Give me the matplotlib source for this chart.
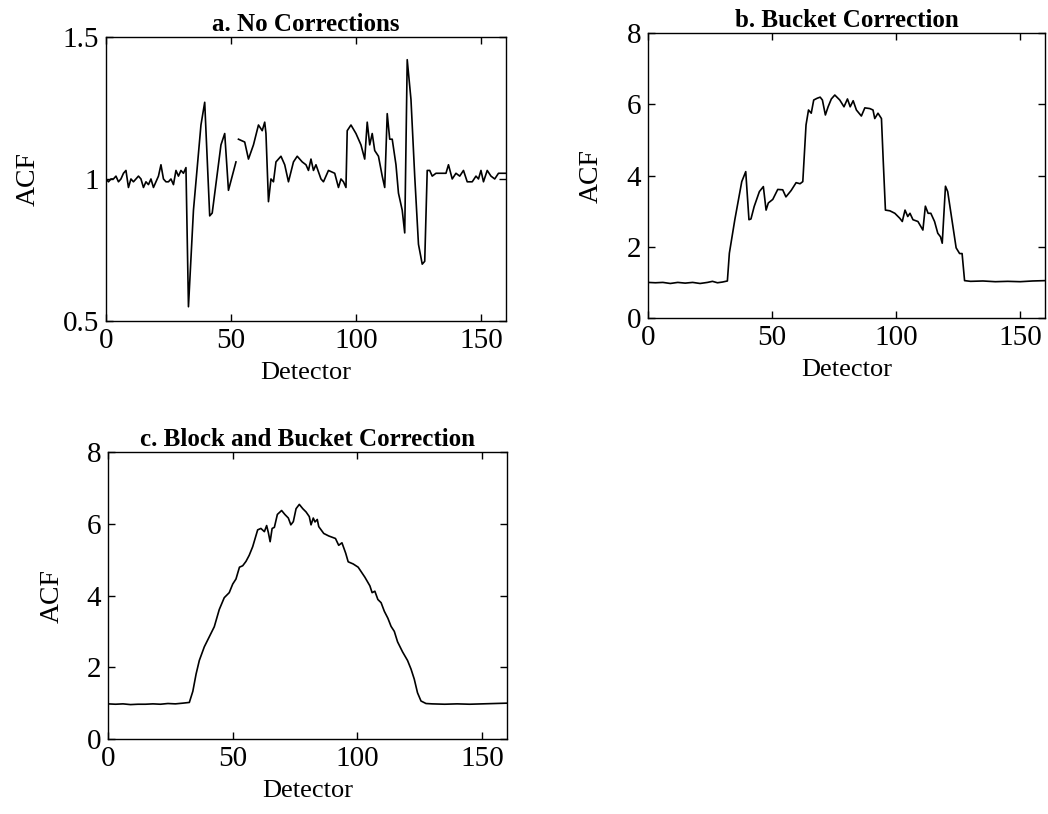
import numpy as np
import matplotlib
matplotlib.use("Agg")
import matplotlib.pyplot as plt
from matplotlib.ticker import FormatStrFormatter

# ---------------------------------------------------------------------------
# Dados (detector, ACF)
# ---------------------------------------------------------------------------
det_a = [0, 1, 2, 3, 4, 5, 6, 7, 8, 9, 10, 11, 12, 13, 14, 15, 16, 17, 18, 19,
         20, 21, 22, 23, 24, 25, 26, 27, 28, 29, 30, 31, 32, 33, 35, 38, 39.5,
         41.5, 42.5, 46, 47.5, 49, 50.5, 52, 52.5, 53, 55.5, 57, 59, 61, 62.5,
         63.5, 64, 65, 66, 67, 68, 70, 71.5, 73, 75, 76.5, 78.5, 80, 81, 82, 83,
         84, 86, 87, 89, 91.5, 93, 94, 95, 96, 96.5, 98, 100, 102, 103.5, 104.5,
         105.5, 106.5, 107.5, 109, 110.5, 111.5, 112.5, 113.5, 114.5, 116, 117,
         118.5, 119.5, 120.5, 122, 123.5, 125, 126.5, 127.5, 128.5, 129.5,
         130.5, 132, 134, 136, 137, 138.5, 140, 141.5, 143, 144.5, 146.5, 148,
         149, 150, 151, 152.5, 154, 155.5, 157, 158.5, 160]
acf_a = [1.00, 0.99, 1.00, 1.00, 1.01, 0.99, 1.00, 1.02, 1.03, 0.97, 1.00, 0.99,
         1.00, 1.01, 1.00, 0.97, 0.99, 0.98, 1.00, 0.97, 0.99, 1.01, 1.05, 1.00,
         0.99, 0.99, 1.00, 0.98, 1.03, 1.01, 1.03, 1.02, 1.04, 0.55, 0.89, 1.19,
         1.27, 0.87, 0.88, 1.12, 1.16, 0.96, 1.01, 1.06, np.nan, 1.14, 1.13,
         1.07, 1.12, 1.19, 1.17, 1.20, 1.16, 0.92, 1.00, 0.99, 1.06, 1.08, 1.05,
         0.99, 1.06, 1.08, 1.06, 1.05, 1.03, 1.07, 1.03, 1.05, 1.00, 0.99, 1.03,
         1.02, 0.97, 1.00, 0.99, 0.97, 1.17, 1.19, 1.16, 1.12, 1.07, 1.20, 1.12,
         1.16, 1.10, 1.08, 1.01, 0.97, 1.23, 1.14, 1.14, 1.05, 0.95, 0.89, 0.81,
         1.42, 1.28, 1.01, 0.77, 0.70, 0.71, 1.03, 1.03, 1.01, 1.02, 1.02, 1.02,
         1.05, 1.00, 1.02, 1.01, 1.03, 0.99, 0.99, 1.01, 1.00, 1.03, 0.99, 1.03,
         1.01, 1.00, 1.02, 1.02, 1.02]

det_b = [0, 3, 6, 9, 12, 15, 18, 21, 24, 26, 28, 30, 32, 32.8, 35, 37.8, 39.4,
         40.7, 41.5, 42.8, 44.9, 46.5, 47.6, 48.5, 50.3, 52.3, 54.3, 55.6, 57.7,
         59.7, 61.3, 62.4, 63.7, 64.7, 65.8, 66.8, 68.2, 69.4, 70.3, 71.5, 72.6,
         73.9, 75.3, 77.3, 79.0, 80.4, 81.5, 82.7, 84, 86, 87.4, 89.4, 90.7,
         91.4, 92.7, 94.1, 94.8, 95.7, 97.5, 99.5, 101.5, 102.5, 103.6, 104.7,
         105.6, 106.8, 108.8, 110.8, 111.8, 112.9, 114, 115.5, 116.8, 117.9,
         118.6, 119.9, 120.8, 122.5, 124.2, 125.6, 126.6, 127.6, 130, 135, 140,
         145, 150, 155, 160]
acf_b = [1.00, 0.99, 1.00, 0.97, 1.00, 0.98, 1.00, 0.97, 1.00, 1.03, 0.99, 1.01,
         1.04, 1.82, 2.76, 3.83, 4.11, 2.76, 2.78, 3.13, 3.55, 3.69, 3.03, 3.23,
         3.33, 3.61, 3.60, 3.40, 3.58, 3.80, 3.77, 3.83, 5.42, 5.84, 5.75, 6.12,
         6.17, 6.20, 6.12, 5.70, 5.93, 6.15, 6.26, 6.12, 5.93, 6.15, 5.93, 6.10,
         5.84, 5.67, 5.90, 5.88, 5.84, 5.60, 5.75, 5.60, 4.44, 3.03, 3.01, 2.94,
         2.80, 2.71, 3.03, 2.85, 2.94, 2.76, 2.71, 2.47, 3.14, 2.94, 2.94, 2.71,
         2.38, 2.28, 2.10, 3.70, 3.55, 2.76, 1.97, 1.81, 1.81, 1.05, 1.03, 1.04,
         1.02, 1.03, 1.02, 1.04, 1.05]

det_c = [0, 3, 6, 9, 12, 15, 18, 21, 24, 27, 30, 32.6, 34, 35.3, 36.6, 38.6,
         40.6, 42.6, 44.6, 46.6, 48.6, 50, 51.3, 52.7, 54, 55.3, 56.6, 58, 60,
         61.3, 62.7, 63.6, 64.3, 65, 65.8, 66.7, 67.9, 69.6, 70.9, 72.3, 73.3,
         74.3, 75.4, 76.7, 78.1, 79.4, 80.7, 81.4, 82.3, 83, 83.9, 84.5, 86.5,
         88.5, 91.2, 92.5, 93.8, 95.3, 96.3, 98.3, 100.3, 103, 105, 105.9, 107,
         108.2, 109.5, 110.8, 112.2, 113.5, 114.8, 116.1, 118.1, 120.1, 121.5,
         122.8, 124.1, 125.5, 127.5, 130, 135, 140, 145, 150, 155, 160]
acf_c = [0.98, 0.97, 0.98, 0.96, 0.97, 0.97, 0.98, 0.97, 0.99, 0.98, 1.00, 1.02,
         1.33, 1.81, 2.19, 2.57, 2.85, 3.13, 3.61, 3.94, 4.08, 4.32, 4.46, 4.79,
         4.83, 4.95, 5.12, 5.36, 5.83, 5.87, 5.78, 5.95, 5.75, 5.50, 5.87, 5.90,
         6.26, 6.37, 6.26, 6.16, 5.97, 6.06, 6.42, 6.54, 6.42, 6.33, 6.20, 5.97,
         6.16, 6.05, 6.12, 5.92, 5.73, 5.66, 5.59, 5.40, 5.47, 5.18, 4.94, 4.88,
         4.79, 4.51, 4.27, 4.08, 4.12, 3.89, 3.80, 3.56, 3.37, 3.14, 3.00, 2.71,
         2.43, 2.19, 1.95, 1.67, 1.29, 1.06, 0.99, 0.98, 0.97, 0.98, 0.97, 0.98,
         0.99, 1.00]

titulos = ["a. No Corrections", "b. Bucket Correction", "c. Block and Bucket Correction"]
yticks_a = [0.5, 1, 1.5]
yticks_bc = [0, 2, 4, 6, 8]
xticks = [0, 50, 100, 150]

# ---------------------------------------------------------------------------
# Figura
# ---------------------------------------------------------------------------
plt.rcParams["font.family"] = ["Liberation Serif", "DejaVu Serif"]

fig = plt.figure(figsize=(10.48, 8.14), dpi=100)
ax_a = fig.add_axes([0.1011, 0.6057, 0.3817, 0.3489])
ax_b = fig.add_axes([0.6183, 0.6093, 0.3788, 0.3501])
ax_c = fig.add_axes([0.1031, 0.0921, 0.3807, 0.3526])

paineis = [
    (ax_a, det_a, acf_a, (0.5, 1.5), yticks_a),
    (ax_b, det_b, acf_b, (0, 8), yticks_bc),
    (ax_c, det_c, acf_c, (0, 8), yticks_bc),
]

for (ax, x, y, ylim, yt), titulo in zip(paineis, titulos):
    ax.plot(x, y, color="black", linewidth=1.2)
    ax.set_xlim(0, 160)
    ax.set_ylim(*ylim)
    ax.set_xticks(xticks)
    ax.set_yticks(yt)
    ax.yaxis.set_major_formatter(FormatStrFormatter("%g"))
    ax.tick_params(direction="in", top=True, right=True, length=5, width=1,
                   labelsize=21, pad=5)
    for s in ax.spines.values():
        s.set_linewidth(1.0)
    ax.set_xlabel("Detector", fontsize=19, labelpad=6)
    ax.set_ylabel("ACF", fontsize=20, labelpad=16)
    ax.set_title(titulo, fontsize=18, fontweight="bold", pad=4)

fig.savefig("out.png", dpi=100)
